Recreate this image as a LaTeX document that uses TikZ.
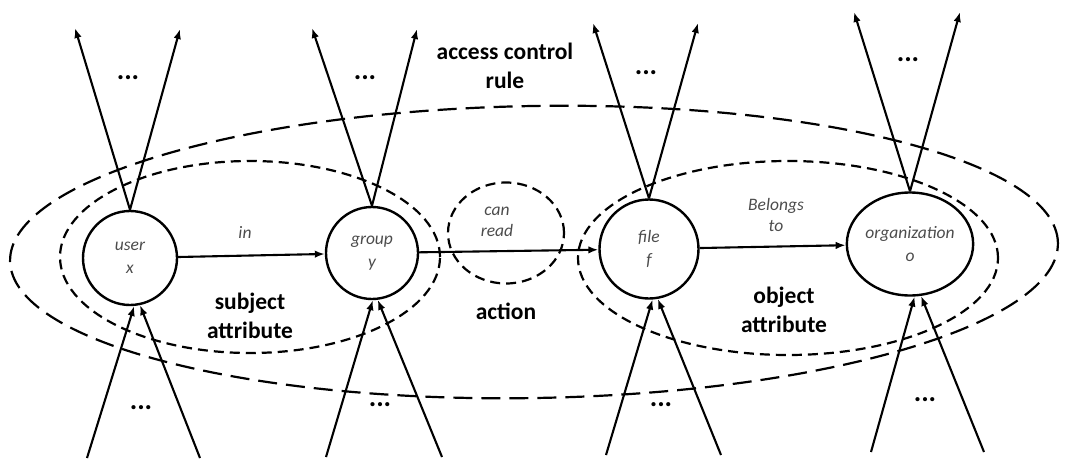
\documentclass[tikz,border=0pt]{standalone}
\usepackage{fontspec}
\setmainfont{Carlito}
\usetikzlibrary{shapes.geometric,arrows.meta}
\begin{document}
\begin{tikzpicture}[x=1pt,y=-1pt,
  ent/.style={circle,draw,line width=2.4pt,inner sep=0pt,minimum size=94pt,align=center,font=\fontsize{17.5}{23}\selectfont\itshape,text=black!70},
  grp/.style={ellipse,draw,dash pattern=on 10pt off 6pt,line width=2.2pt,inner sep=0pt},
  outerell/.style={ellipse,draw,dash pattern=on 19pt off 9pt,line width=2.2pt,inner sep=0pt},
  lbl/.style={font=\fontsize{23.5}{29.5}\selectfont\bfseries,align=center},
  rel/.style={font=\fontsize{17.5}{21}\selectfont\itshape,text=black!70,align=center},
  dots/.style={font=\fontsize{28}{28}\selectfont\bfseries},
  arr/.style={line width=2.1pt,-{Latex[length=10pt,width=7.5pt]}},
]
\useasboundingbox (0,0) rectangle (1076,460);
% grouping ellipses
\node[outerell,minimum width=1048pt,minimum height=292pt,rotate=1] (acr) at (534,252) {};
\node[grp,minimum width=380pt,minimum height=192pt] (subj) at (250,257) {};
\node[grp,minimum width=420pt,minimum height=194pt] (obj) at (788,258) {};
\node[grp,minimum width=116pt,minimum height=101pt] (act) at (506,233) {};
% entities
\node[ent] (user) at (130,258) {user\\x};
\node[ent,minimum size=92pt] (group) at (372,253) {group\\y};
\node[ent,minimum size=99pt] (file) at (649,249) {file\\f};
\node[ent,ellipse,minimum width=111pt,minimum height=103pt] (org) at (910,244) {organization\\o};
% relation labels
\node[rel] (inlbl) at (245,232) {in};
\node[rel] (canread) at (497,222) {can\\read};
\node[rel] (belongs) at (776,215) {Belongs\\to};
% relations
\draw[arr] (user) -- (group);
\draw[arr] (group) -- (file);
\draw[arr] (file) -- (org);
% free ends
\coordinate (ut1) at (75,28);  \coordinate (ut2) at (180,29);
\coordinate (ub1) at (87,458); \coordinate (ub2) at (200,458);
\coordinate (gt1) at (312,28); \coordinate (gt2) at (417,29);
\coordinate (gb1) at (326,457);\coordinate (gb2) at (442,457);
\coordinate (ft1) at (593,23); \coordinate (ft2) at (698,23);
\coordinate (fb1) at (606,455);\coordinate (fb2) at (721,455);
\coordinate (ot1) at (854,12); \coordinate (ot2) at (960,12);
\coordinate (ob1) at (871,452);\coordinate (ob2) at (984,452);
% outgoing
\draw[arr] (user.north) -- (ut1); \draw[arr] (user.north) -- (ut2);
\draw[arr] (group.north) -- (gt1); \draw[arr] (group.north) -- (gt2);
\draw[arr] (file.north) -- (ft1); \draw[arr] (file.north) -- (ft2);
\draw[arr] (org.north) -- (ot1); \draw[arr] (org.north) -- (ot2);
% incoming
\draw[arr] (ub1) -- (user.-85); \draw[arr] (ub2) -- (user.-78);
\draw[arr] (gb1) -- (group.-89); \draw[arr] (gb2) -- (group.-83);
\draw[arr] (fb1) -- (file.-86); \draw[arr] (fb2) -- (file.-80);
\draw[arr] (ob1) -- (org.-85); \draw[arr] (ob2) -- (org.-78);
% dots
\node[dots] (d1) at (128,78) {...};
\node[dots] (d2) at (365,78) {...};
\node[dots] (d3) at (646,73) {...};
\node[dots] (d4) at (908,60) {...};
\node[dots] (d5) at (141,408) {...};
\node[dots] (d6) at (380,405) {...};
\node[dots] (d7) at (661,405) {...};
\node[dots] (d8) at (925,400) {...};
% group labels
\node[lbl] (acrl) at (505,66) {access control\\rule};
\node[lbl] (subjl) at (250,316) {subject\\attribute};
\node[lbl] (actl) at (506,311) {action};
\node[lbl] (objl) at (784,310) {object\\attribute};
\end{tikzpicture}
\end{document}
